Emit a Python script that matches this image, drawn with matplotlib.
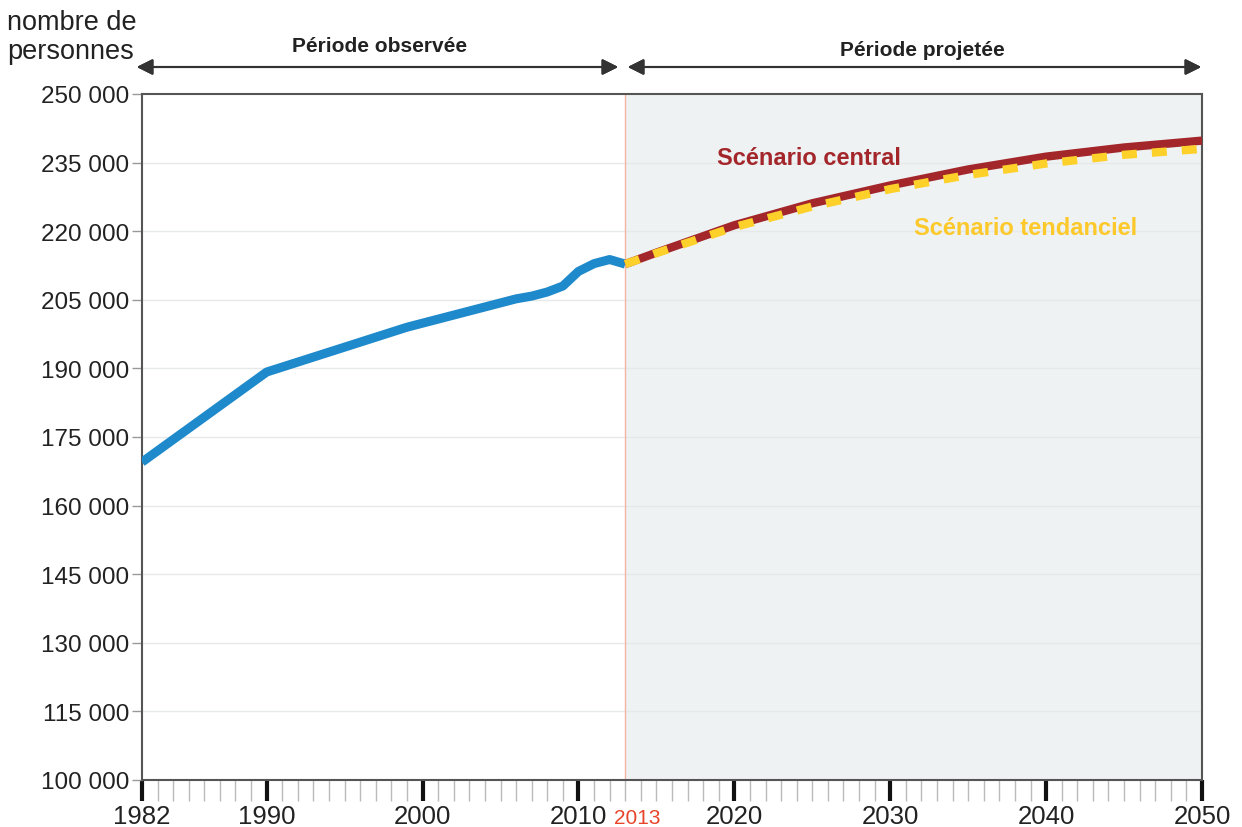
import matplotlib.pyplot as plt
from matplotlib.ticker import FuncFormatter

plt.rcParams['font.family'] = ['Liberation Sans Narrow', 'Liberation Sans', 'DejaVu Sans']

# observed population
obs_years = [1982, 1990, 1999, 2006, 2007, 2008, 2009, 2010, 2011, 2012, 2013]
obs_pop = [169500, 189200, 199000, 205200, 205800, 206700, 208000, 211200, 212900, 213800, 212800]

# projections
proj_years = [2013, 2015, 2020, 2025, 2030, 2035, 2040, 2045, 2050]
central = [212800, 215300, 221300, 226100, 230000, 233500, 236300, 238300, 239800]
tendanciel = [212800, 215200, 220900, 225400, 229200, 232300, 234800, 236700, 238000]

y_ticks = list(range(100000, 250001, 15000))
major_years = [1982, 1990, 2000, 2010, 2020, 2030, 2040, 2050]

fig = plt.figure(figsize=(12.42, 8.28), dpi=100)
ax = fig.add_axes([0.1143, 0.0568, 0.8535, 0.8285])

ax.axvspan(2013, 2050, color='#eef2f3', zorder=0, lw=0)
ax.axvline(2013, color='#f4b3a3', lw=1, zorder=1)
for y in y_ticks[1:-1]:
    ax.axhline(y, color='#e6e9ea', lw=1, zorder=0.5)

ax.plot(obs_years, obs_pop, color='#1f8acb', lw=6.5, solid_capstyle='butt',
        solid_joinstyle='round', zorder=3)
ax.plot(proj_years, central, color='#a3262a', lw=6, solid_capstyle='butt', zorder=3)
ax.plot(proj_years, tendanciel, color='#fdd02a', lw=6, dashes=(1.8, 1.8),
        dash_capstyle='butt', zorder=4)

ax.set_xlim(1982, 2050)
ax.set_ylim(100000, 250000)

ax.set_yticks(y_ticks)
ax.yaxis.set_major_formatter(FuncFormatter(lambda v, p: f'{int(v):,}'.replace(',', ' ')))
ax.tick_params(axis='y', length=7, width=1, color='#999999', labelsize=17.5,
               labelcolor='#222222', pad=2)

ax.set_xticks(major_years)
ax.set_xticks(range(1982, 2051), minor=True)
ax.tick_params(axis='x', which='major', length=15, width=3, color='#111111',
               labelsize=18.5, labelcolor='#222222', pad=2)
ax.tick_params(axis='x', which='minor', length=15, width=1, color='#bbbbbb')
ax.text(2013.8, -0.054, '2013', transform=ax.get_xaxis_transform(), color='#e8442a',
        fontsize=15, ha='center', va='center')

for s in ax.spines.values():
    s.set_color('#555555')
    s.set_linewidth(1.5)

ax.text(2024.8, 236000, 'Scénario central', color='#a3262a', fontsize=17,
        fontweight='bold', ha='center', va='center')
ax.text(2038.7, 220800, 'Scénario tendanciel', color='#fdc92a', fontsize=17,
        fontweight='bold', ha='center', va='center')

fig.text(0.006, 0.988, 'nombre de\npersonnes', fontsize=19.5, color='#222222',
         ha='left', va='top', linespacing=1.15)

arrow_y = 1 - 68 / 828
akw = dict(arrowstyle='<|-|>', color='#333333', lw=1.5, mutation_scale=24)
fig.add_artist(plt.annotate('', xy=(621 / 1242, arrow_y), xytext=(134 / 1242, arrow_y),
                            xycoords='figure fraction', arrowprops=akw))
fig.add_artist(plt.annotate('', xy=(1204 / 1242, arrow_y), xytext=(625 / 1242, arrow_y),
                            xycoords='figure fraction', arrowprops=akw))
fig.text(380 / 1242, 1 - 47 / 828, 'Période observée', fontsize=15, fontweight='bold',
         color='#222222', ha='center', va='center')
fig.text(922 / 1242, 1 - 50 / 828, 'Période projetée', fontsize=15, fontweight='bold',
         color='#222222', ha='center', va='center')

fig.savefig('out.png', dpi=100)
